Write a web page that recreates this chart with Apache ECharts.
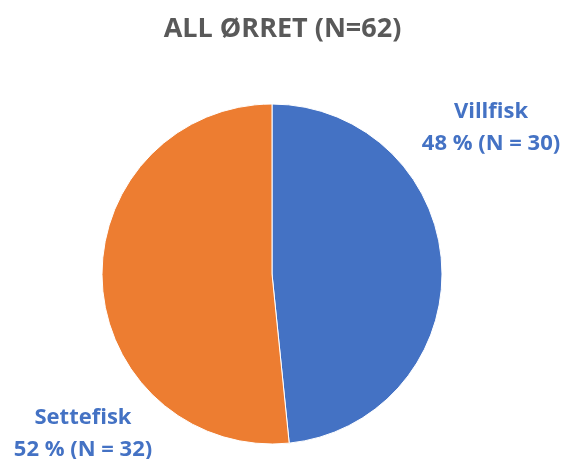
<!DOCTYPE html>
<html>
<head>
<meta charset="utf-8">
<script src="https://cdn.jsdelivr.net/npm/echarts@6/dist/echarts.min.js"></script>
<style>
  html, body { margin: 0; padding: 0; background: #fff; }
  #chart { width: 565px; height: 459px; }
</style>
</head>
<body>
<div id="chart"></div>
<script>
const categories = ['Villfisk', 'Settefisk'];
const counts = [30, 32];
const percents = [48, 52];
const colors = ['#4472C4', '#ED7D31'];

const total = counts.reduce((a, b) => a + b, 0);
const labelSpots = [[491, 128], [83, 434]];

const chart = echarts.init(document.getElementById('chart'));
const option = {
  animation: false,
  title: {
    text: 'ALL ØRRET (N=' + total + ')',
    left: 'center',
    top: 11,
    textStyle: {
      color: '#595959',
      fontFamily: 'Open Sans',
      fontWeight: 'bold',
      fontSize: 27
    }
  },
  series: [{
    type: 'pie',
    center: [272, 274],
    radius: 170,
    startAngle: 90,
    clockwise: true,
    itemStyle: { borderColor: '#fff', borderWidth: 1 },
    label: {
      show: true,
      position: 'outside',
      color: '#4472C4',
      fontFamily: 'Open Sans',
      fontWeight: 'bold',
      fontSize: 22,
      lineHeight: 32,
      align: 'center',
      overflow: 'none',
      width: 200,
      formatter: p => p.name + '\n' + percents[p.dataIndex] + ' % (N = ' + p.value + ')'
    },
    labelLine: { show: false },
    labelLayout: p => ({
      x: labelSpots[p.dataIndex][0],
      y: labelSpots[p.dataIndex][1],
      align: 'center',
      verticalAlign: 'middle'
    }),
    data: categories.map((c, i) => ({
      name: c,
      value: counts[i],
      itemStyle: { color: colors[i] }
    }))
  }]
};
chart.setOption(option);
</script>
</body>
</html>
